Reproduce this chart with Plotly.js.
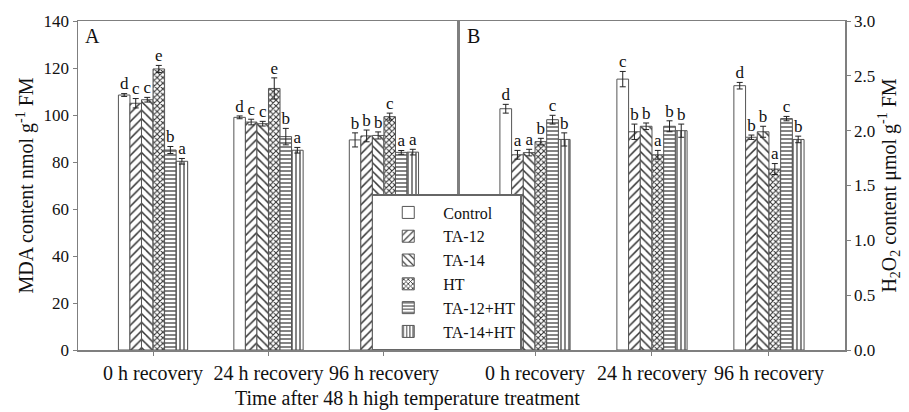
<!DOCTYPE html>
<html>
<head>
<meta charset="utf-8">
<script src="https://cdn.plot.ly/plotly-3.0.1.min.js"></script>
<style>html,body{margin:0;padding:0;background:#fff;}#chart{width:909px;height:412px;}</style>
</head>
<body>
<div id="chart"></div>
<script>
// ---- data ----
const categories = ["0 h recovery", "24 h recovery", "96 h recovery"];
const treatments = ["Control", "TA-12", "TA-14", "HT", "TA-12+HT", "TA-14+HT"];

// Panel A: MDA content (nmol g-1 FM)
const mdaControl = [108.5, 99.0, 89.4];
const mdaTA12    = [105.0, 97.0, 91.1];
const mdaTA14    = [106.5, 96.3, 91.3];
const mdaHT      = [119.6, 111.3, 99.3];
const mdaTA12HT  = [85.1, 90.8, 84.1];
const mdaTA14HT  = [80.3, 85.0, 84.2];
const mdaErrControl = [0.6, 0.6, 3.0];
const mdaErrTA12    = [2.0, 1.2, 2.5];
const mdaErrTA14    = [1.0, 1.0, 1.5];
const mdaErrHT      = [1.5, 4.5, 1.5];
const mdaErrTA12HT  = [1.5, 3.5, 0.8];
const mdaErrTA14HT  = [1.2, 1.2, 1.2];
const mdaLetControl = ["d", "d", "b"];
const mdaLetTA12    = ["c", "c", "b"];
const mdaLetTA14    = ["c", "c", "b"];
const mdaLetHT      = ["e", "e", "c"];
const mdaLetTA12HT  = ["b", "b", "a"];
const mdaLetTA14HT  = ["a", "a", "a"];

// Panel B: H2O2 content (umol g-1 FM)
const h2o2Control = [2.20, 2.47, 2.41];
const h2o2TA12    = [1.78, 1.99, 1.94];
const h2o2TA14    = [1.80, 2.04, 1.99];
const h2o2HT      = [1.90, 1.78, 1.65];
const h2o2TA12HT  = [2.10, 2.04, 2.11];
const h2o2TA14HT  = [1.92, 2.00, 1.92];
const h2o2ErrControl = [0.04, 0.07, 0.03];
const h2o2ErrTA12    = [0.04, 0.07, 0.02];
const h2o2ErrTA14    = [0.03, 0.03, 0.05];
const h2o2ErrHT      = [0.03, 0.04, 0.05];
const h2o2ErrTA12HT  = [0.04, 0.05, 0.02];
const h2o2ErrTA14HT  = [0.06, 0.06, 0.03];
const h2o2LetControl = ["d", "c", "d"];
const h2o2LetTA12    = ["a", "b", "b"];
const h2o2LetTA14    = ["a", "b", "b"];
const h2o2LetHT      = ["b", "a", "a"];
const h2o2LetTA12HT  = ["c", "b", "c"];
const h2o2LetTA14HT  = ["b", "b", "b"];

const yTicksA = [0, 20, 40, 60, 80, 100, 120, 140];
const yTicksB = [0.0, 0.5, 1.0, 1.5, 2.0, 2.5, 3.0];
const yTickTextB = ["0.0", "0.5", "1.0", "1.5", "2.0", "2.5", "3.0"];

// ---- build ----
const mdaVals = [mdaControl, mdaTA12, mdaTA14, mdaHT, mdaTA12HT, mdaTA14HT];
const mdaErrs = [mdaErrControl, mdaErrTA12, mdaErrTA14, mdaErrHT, mdaErrTA12HT, mdaErrTA14HT];
const mdaLets = [mdaLetControl, mdaLetTA12, mdaLetTA14, mdaLetHT, mdaLetTA12HT, mdaLetTA14HT];
const h2Vals = [h2o2Control, h2o2TA12, h2o2TA14, h2o2HT, h2o2TA12HT, h2o2TA14HT];
const h2Errs = [h2o2ErrControl, h2o2ErrTA12, h2o2ErrTA14, h2o2ErrHT, h2o2ErrTA12HT, h2o2ErrTA14HT];
const h2Lets = [h2o2LetControl, h2o2LetTA12, h2o2LetTA14, h2o2LetHT, h2o2LetTA12HT, h2o2LetTA14HT];

const patterns = [
  {shape: ""},
  {shape: "/", size: 6, solidity: 0.25},
  {shape: "\\", size: 6, solidity: 0.25},
  {shape: "x", size: 4, solidity: 0.45},
  {shape: "-", size: 4, solidity: 0.3},
  {shape: "|", size: 4, solidity: 0.3}
];
const serif = "'Liberation Serif', 'Times New Roman', serif";
const traces = [];

function addPanel(vals, errs, lets, xa, ya, showLegend) {
  treatments.forEach((name, i) => {
    traces.push({
      type: "bar", name: name, x: categories, y: vals[i],
      xaxis: xa, yaxis: ya,
      offsetgroup: "g" + i, showlegend: showLegend,
      marker: {color: "#ffffff", line: {color: "#555555", width: 1},
               pattern: Object.assign({fgcolor: "#333333", bgcolor: "#ffffff", fillmode: "replace"}, patterns[i])},
      error_y: {type: "data", array: errs[i], visible: true, color: "#222222", thickness: 1, width: 3},
      hoverinfo: "skip"
    });
  });
  treatments.forEach((name, i) => {
    traces.push({
      type: "scatter", mode: "text", x: categories,
      y: vals[i].map((v, k) => v + errs[i][k]),
      text: lets[i], textposition: "top center",
      textfont: {family: serif, size: 17, color: "#111111"},
      xaxis: xa, yaxis: ya, offsetgroup: "g" + i, showlegend: false, hoverinfo: "skip", cliponaxis: false
    });
  });
}
addPanel(mdaVals, mdaErrs, mdaLets, "x", "y", true);
addPanel(h2Vals, h2Errs, h2Lets, "x2", "y2", false);

const axLine = "#7f7f7f";
const xCommon = {
  type: "category", range: [-0.65, 2.65], showline: true, linecolor: axLine, linewidth: 1.5,
  mirror: true, ticks: "outside", ticklen: 4, tickcolor: axLine, showgrid: false, zeroline: false,
  tickfont: {family: serif, size: 20, color: "#111"}, fixedrange: true
};
const layout = {
  width: 909, height: 412,
  margin: {l: 78, r: 64, t: 21, b: 62},
  paper_bgcolor: "#fff", plot_bgcolor: "#fff",
  bargap: 0.4, bargroupgap: 0, barmode: "group",
  scattermode: "group", scattergap: 0.4,
  font: {family: serif, color: "#111"},
  xaxis: Object.assign({}, xCommon, {domain: [0, 0.4967], anchor: "y"}),
  xaxis2: Object.assign({}, xCommon, {domain: [0.4967, 1], anchor: "y2"}),
  yaxis: {
    domain: [0, 1], anchor: "x", range: [0, 140], tickvals: yTicksA,
    showline: true, linecolor: axLine, linewidth: 1.5, mirror: true,
    ticks: "outside", ticklen: 4, tickcolor: axLine, showgrid: false, zeroline: false,
    tickfont: {family: serif, size: 17, color: "#111"},
    title: {text: "MDA content nmol g<sup>-1</sup> FM", font: {family: serif, size: 20, color: "#111"}, standoff: 4}
  },
  yaxis2: {
    domain: [0, 1], anchor: "x2", side: "right", range: [0, 3], tickvals: yTicksB, ticktext: yTickTextB,
    showline: true, linecolor: axLine, linewidth: 1.5, mirror: true,
    ticks: "outside", ticklen: 4, tickcolor: axLine, showgrid: false, zeroline: false,
    tickfont: {family: serif, size: 17, color: "#111"},
    title: {text: "H<sub>2</sub>O<sub>2</sub> content μmol g<sup>-1</sup> FM", font: {family: serif, size: 20, color: "#111"}, standoff: 4}
  },
  legend: {
    x: 0.383, y: 0.237, xanchor: "left", yanchor: "middle",
    bgcolor: "#ffffff", bordercolor: "#666666", borderwidth: 1.5,
    font: {family: serif, size: 16, color: "#111"}, tracegroupgap: 0, itemwidth: 60
  },
  annotations: [
    {text: "Time after 48 h high temperature treatment", xref: "paper", yref: "paper",
     x: 0.43, y: -0.146, xanchor: "center", yanchor: "middle", showarrow: false,
     font: {family: serif, size: 20, color: "#111"}},
    {text: "A", xref: "paper", yref: "paper", x: 0.006, y: 0.995, xanchor: "left", yanchor: "top",
     showarrow: false, font: {family: serif, size: 20, color: "#111"}},
    {text: "B", xref: "paper", yref: "paper", x: 0.505, y: 0.995, xanchor: "left", yanchor: "top",
     showarrow: false, font: {family: serif, size: 20, color: "#111"}}
  ]
};
Plotly.newPlot("chart", traces, layout, {displayModeBar: false, staticPlot: true});
</script>
</body>
</html>
